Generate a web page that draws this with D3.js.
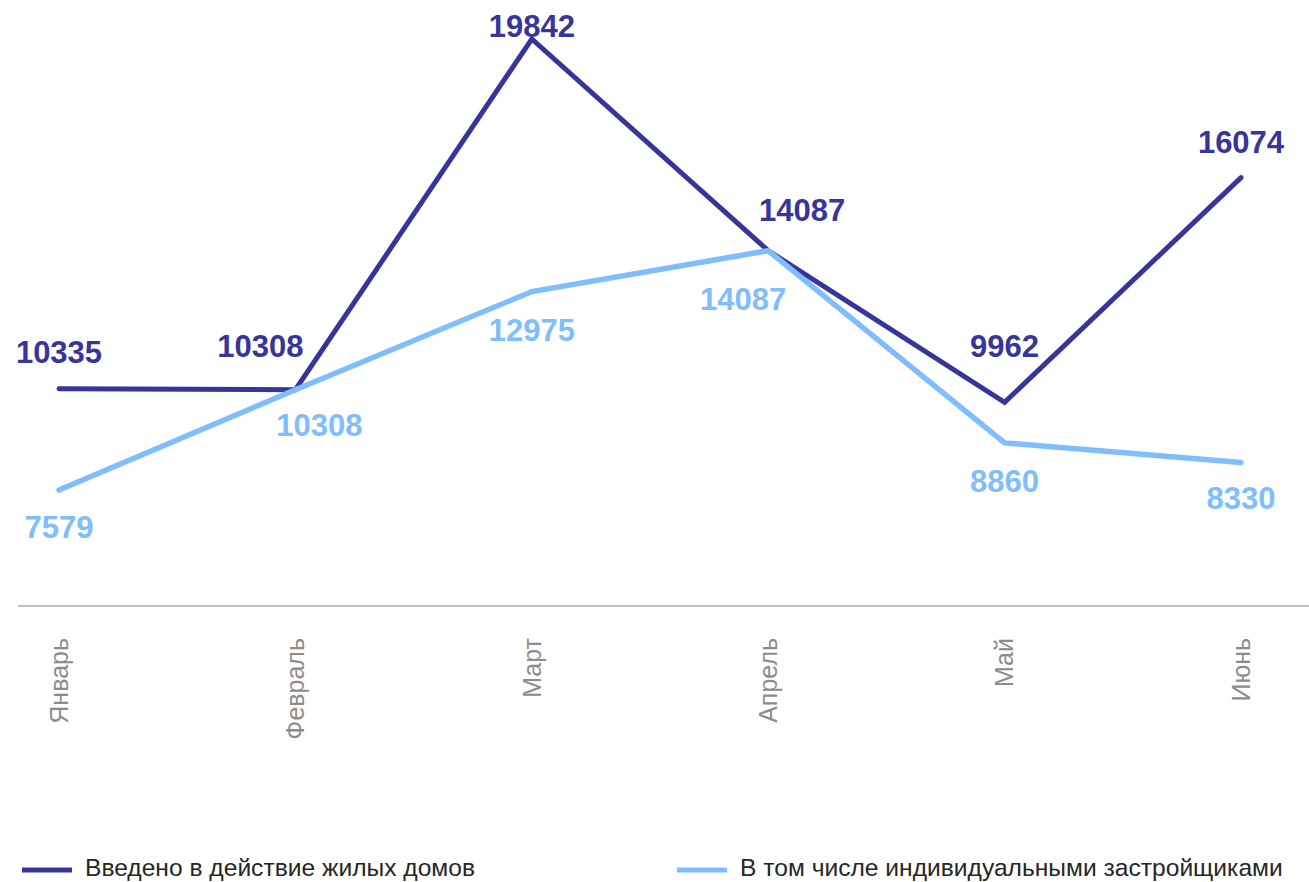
<!DOCTYPE html>
<html>
<head>
<meta charset="utf-8">
<script src="https://cdn.jsdelivr.net/npm/d3@7"></script>
<style>
  body { margin: 0; background: #fff; }
  svg { display: block; font-family: "Liberation Sans", Arial, sans-serif; }
</style>
</head>
<body>
<div id="chart"></div>
<script>
// data
var months = ["Январь", "Февраль", "Март", "Апрель", "Май", "Июнь"];
var totalHouses = [10335, 10308, 19842, 14087, 9962, 16074];
var individualHouses = [7579, 10308, 12975, 14087, 8860, 8330];
var seriesNames = ["Введено в действие жилых домов", "В том числе индивидуальными застройщиками"];

// label nudges (layout only), px relative to point
var darkLabelShift = [[0, -26], [-35, -33], [0, -2], [34, -30], [0, -45], [0, -25]];
var lightLabelShift = [[0, 48], [24, 46], [0, 49], [-25, 59], [0, 49], [0, 47]];

var W = 1309, H = 882;
var darkColor = "#37359a", lightColor = "#7fbdfd";

var svg = d3.select("#chart").append("svg")
    .attr("width", W)
    .attr("height", H);

var x = d3.scalePoint().domain(months).range([59, 1241]);
var y = d3.scaleLinear().domain([4426, 19842]).range([606, 39]);

// axis baseline
svg.append("line")
    .attr("x1", 18).attr("x2", W)
    .attr("y1", y(4426)).attr("y2", y(4426))
    .style("stroke", "#bfbfbf")
    .style("stroke-width", 2);

// month labels, rotated
svg.selectAll("text.month").data(months).enter().append("text")
    .attr("class", "month")
    .attr("transform", function (d) {
        return "translate(" + x(d) + ",638) rotate(-90)";
    })
    .attr("dy", "0.35em")
    .attr("text-anchor", "end")
    .style("font-size", "25px")
    .style("fill", "#8c8c8c")
    .text(function (d) { return d; });

var line = d3.line()
    .x(function (d, i) { return x(months[i]); })
    .y(function (d) { return y(d); });

svg.append("path").attr("d", line(totalHouses))
    .style("fill", "none")
    .style("stroke", darkColor)
    .style("stroke-width", 5)
    .style("stroke-linecap", "round");

svg.append("path").attr("d", line(individualHouses))
    .style("fill", "none")
    .style("stroke", lightColor)
    .style("stroke-width", 5.5)
    .style("stroke-linecap", "round");

var addLabels = function (values, shift, color) {
    svg.append("g").selectAll("text").data(values).enter().append("text")
        .attr("x", function (d, i) { return x(months[i]) + shift[i][0]; })
        .attr("y", function (d, i) { return y(d) + shift[i][1]; })
        .attr("text-anchor", "middle")
        .style("font-size", "31px")
        .style("font-weight", "bold")
        .style("fill", color)
        .text(function (d) { return d; });
};
addLabels(totalHouses, darkLabelShift, darkColor);
addLabels(individualHouses, lightLabelShift, lightColor);

// legend
var legend = svg.append("g");
var legendX = [22, 677];
var legendColors = [darkColor, lightColor];
seriesNames.forEach(function (name, i) {
    legend.append("line")
        .attr("x1", legendX[i]).attr("x2", legendX[i] + 50)
        .attr("y1", 870).attr("y2", 870)
        .style("stroke", legendColors[i])
        .style("stroke-width", 5);
    legend.append("text")
        .attr("x", legendX[i] + 63)
        .attr("y", 876)
        .style("font-size", "24.6px")
        .style("fill", "#262626")
        .text(name);
});
</script>
</body>
</html>
